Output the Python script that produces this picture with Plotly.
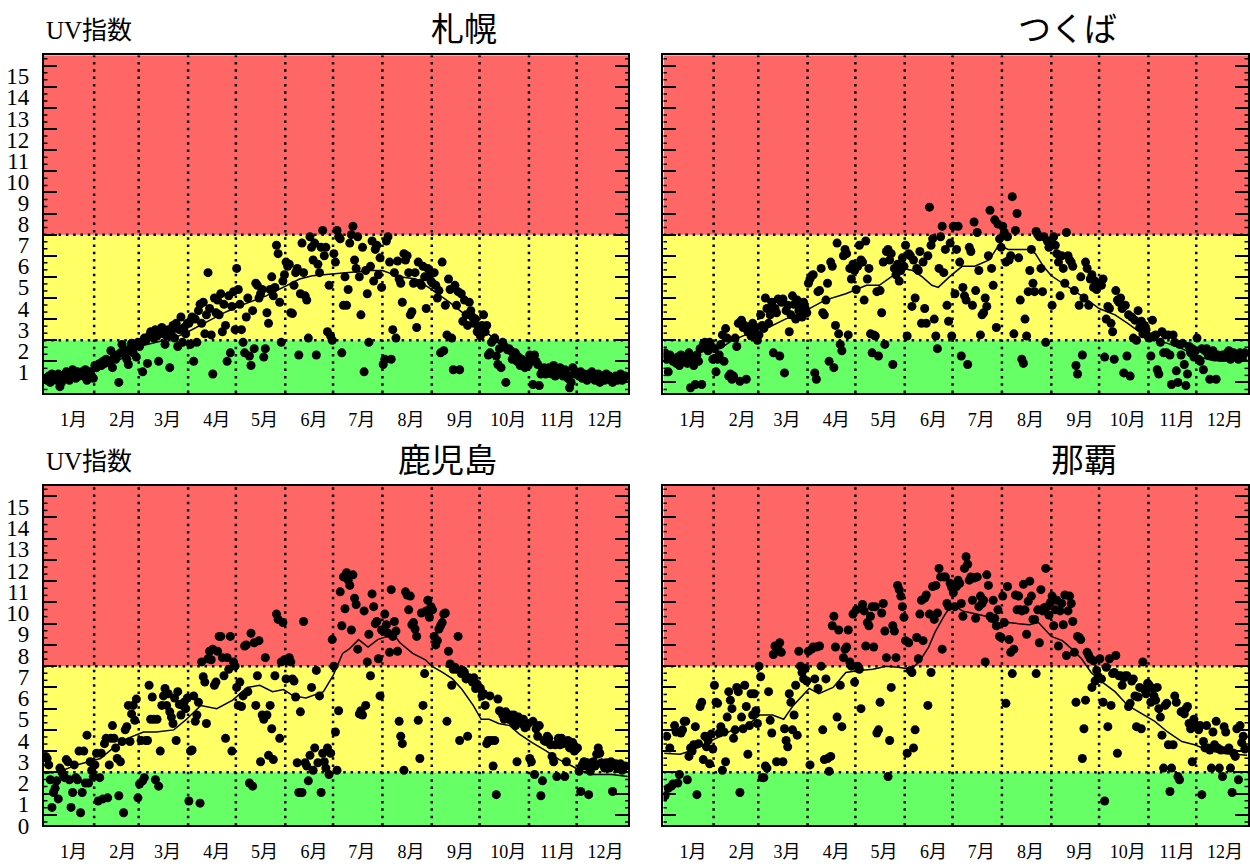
import plotly.graph_objects as go

# ---- calendar ----
MONTH_DAYS = [31, 28, 31, 30, 31, 30, 31, 31, 30, 31, 30, 31]
MONTH_START = [0, 31, 59, 90, 120, 151, 181, 212, 243, 273, 304, 334]
MONTH_LABELS = ["1月", "2月", "3月", "4月", "5月", "6月",
                "7月", "8月", "9月", "10月", "11月", "12月"]
UV_LABELS = [str(k) for k in range(16)]

# ---- daily max UV index, one list per month ----
sapporo_uv = [
    [0.7, 0.6, 0.8, 0.5, 0.9, 0.7, 0.8, 0.6, 0.9, 0.3, 0.5, 0.8, 0.7, 1.0, 0.9, 0.6, 0.8, 1.1, 0.9, 0.7, 1.0, 0.8, 0.9, 1.0, 0.8, 1.1, 0.6, 0.9, 1.0, 0.8, 0.7],
    [1.3, 1.2, 1.35, 1.4, 1.3, 1.5, 1.4, 1.6, 1.5, 1.45, 2.0, 1.2, 1.7, 1.6, 1.8, 0.5, 1.9, 2.3, 2.0, 1.8, 1.6, 1.35, 2.1, 2.35, 1.9, 2.2, 1.7, 2.4],
    [2.2, 2.4, 1.0, 2.6, 2.5, 1.4, 2.7, 2.9, 2.8, 2.6, 3.0, 2.7, 1.5, 2.9, 3.1, 2.8, 2.3, 2.7, 3.0, 1.2, 2.9, 3.2, 2.6, 3.3, 2.2, 3.0, 3.6, 2.4, 3.1, 2.8, 3.3],
    [3.3, 2.3, 3.6, 1.5, 3.5, 2.4, 3.9, 4.2, 3.3, 4.3, 2.8, 3.7, 5.7, 4.0, 2.75, 0.9, 4.5, 3.8, 4.4, 3.7, 4.7, 2.9, 4.2, 3.2, 1.5, 4.6, 1.9, 4.1, 4.8, 3.0],
    [5.9, 4.9, 4.2, 3.0, 2.4, 1.9, 3.6, 4.5, 1.75, 1.3, 3.9, 2.1, 5.2, 5.1, 4.5, 4.7, 4.9, 1.7, 2.1, 3.8, 3.3, 4.9, 5.5, 4.6, 5.0, 7.0, 6.6, 4.3, 2.4, 5.3, 5.6],
    [6.2, 6.0, 6.1, 3.8, 3.76, 5.1, 5.7, 5.9, 1.8, 4.7, 7.1, 5.7, 4.6, 4.4, 2.6, 7.4, 6.9, 6.3, 7.1, 1.8, 6.1, 5.7, 6.9, 7.7, 6.5, 6.9, 2.9, 5.1, 2.7, 2.5],
    [6.6, 6.2, 7.7, 7.4, 7.3, 1.9, 4.15, 5.5, 4.15, 4.9, 7.1, 7.5, 7.9, 6.3, 5.9, 7.4, 5.5, 3.7, 6.9, 1.0, 5.8, 4.7, 2.4, 6.0, 7.2, 5.3, 6.8, 7.0, 5.6, 6.4, 5.0],
    [1.35, 1.6, 7.2, 7.4, 6.2, 1.6, 3.0, 5.7, 2.6, 6.25, 5.4, 5.2, 4.3, 6.6, 6.3, 6.5, 5.7, 3.7, 3.85, 5.2, 5.7, 3.1, 6.2, 5.2, 5.1, 6.0, 5.5, 4.0, 5.9, 5.6, 5.3],
    [5.2, 5.7, 5.1, 4.5, 4.85, 1.9, 6.2, 2.0, 4.15, 2.75, 5.4, 4.9, 2.6, 1.1, 5.1, 4.15, 4.8, 1.1, 4.7, 3.4, 4.4, 3.7, 3.2, 4.3, 3.9, 3.6, 3.3, 3.5, 2.9, 3.1],
    [2.7, 3.2, 3.7, 2.9, 3.2, 1.8, 1.9, 2.4, 2.5, 2.6, 1.75, 1.35, 2.1, 1.2, 2.4, 2.2, 0.5, 2.05, 2.1, 2.0, 1.6, 1.8, 1.9, 1.5, 1.7, 1.3, 1.6, 1.4, 1.2, 1.5, 1.3],
    [1.8, 1.5, 0.4, 1.8, 1.5, 1.35, 0.35, 0.9, 1.1, 1.2, 0.9, 1.0, 1.2, 1.0, 0.9, 1.3, 0.8, 1.1, 0.9, 1.2, 1.0, 0.8, 1.1, 0.9, 0.7, 0.25, 0.5, 1.2, 0.9, 1.0],
    [0.9, 0.8, 1.0, 0.7, 0.9, 0.8, 0.6, 0.9, 0.7, 1.0, 0.8, 0.6, 0.7, 0.9, 0.5, 0.8, 0.7, 0.6, 0.9, 0.7, 0.8, 0.6, 0.5, 0.7, 0.8, 0.6, 0.7, 0.9, 0.6, 0.7, 0.8],
]
sapporo_mean_day = [0, 10, 20, 31, 40, 50, 59, 70, 81, 90, 98, 105, 114, 125, 139, 150, 160, 168, 181, 195, 205, 212, 223, 233, 243, 254, 264, 275, 285, 296, 306, 316, 327, 337, 348, 358, 366]
sapporo_mean = [0.8, 0.8, 0.85, 1.0, 1.3, 1.7, 2.2, 2.4, 2.6, 2.9, 3.2, 3.5, 3.85, 4.2, 4.6, 5.0, 5.4, 5.55, 5.65, 5.75, 5.8, 5.8, 5.5, 5.4, 4.9, 4.3, 3.7, 3.05, 2.35, 1.9, 1.5, 1.17, 1.0, 0.89, 0.75, 0.7, 0.68]

tsukuba_uv = [
    [1.9, 1.6, 1.0, 1.8, 1.7, 1.5, 1.6, 1.4, 1.7, 1.3, 1.8, 1.6, 1.5, 1.7, 1.4, 1.9, 0.25, 1.6, 1.3, 0.4, 1.8, 1.5, 2.1, 0.4, 2.3, 2.4, 2.1, 2.0, 2.4, 2.2, 1.6],
    [2.1, 1.0, 1.6, 1.8, 2.3, 2.75, 1.5, 3.05, 2.6, 0.8, 0.9, 0.65, 0.8, 2.6, 2.2, 3.3, 0.55, 3.45, 3.1, 3.2, 0.65, 2.9, 3.0, 2.7, 3.3, 2.8, 3.1, 2.5],
    [2.75, 3.7, 3.2, 3.06, 4.5, 4.0, 3.3, 3.7, 4.3, 1.9, 4.0, 3.8, 4.45, 1.75, 4.3, 4.45, 0.95, 3.9, 4.15, 2.9, 3.7, 4.6, 4.2, 3.5, 4.4, 3.9, 4.1, 3.6, 4.3, 4.0, 3.8],
    [5.2, 5.4, 5.55, 5.6, 0.95, 0.65, 4.8, 4.85, 5.9, 3.8, 3.7, 4.4, 5.2, 1.5, 6.2, 6.0, 1.2, 3.2, 7.1, 2.8, 2.3, 2.0, 6.5, 6.8, 6.6, 2.75, 5.9, 5.4, 6.1, 5.8],
    [4.9, 6.0, 7.0, 6.3, 6.2, 4.4, 7.2, 5.4, 5.9, 2.8, 1.9, 2.75, 2.7, 4.8, 1.75, 4.85, 3.8, 6.2, 2.3, 6.7, 6.8, 6.3, 6.6, 1.35, 5.9, 5.6, 6.1, 5.3, 5.8, 6.4, 6.0],
    [7.0, 2.7, 6.6, 6.5, 4.1, 6.3, 4.5, 5.9, 5.8, 6.7, 3.3, 6.2, 4.0, 3.3, 6.5, 8.8, 7.0, 7.3, 3.5, 2.7, 2.1, 5.9, 7.4, 7.9, 5.7, 6.8, 4.15, 3.4, 7.1, 2.7],
    [7.9, 4.7, 6.8, 7.9, 6.2, 1.75, 5.0, 4.6, 4.4, 1.35, 6.9, 6.7, 4.15, 8.1, 4.85, 7.6, 5.8, 2.75, 3.7, 3.8, 4.5, 4.1, 6.5, 8.65, 5.9, 5.1, 8.2, 3.1, 8.0, 7.3, 6.9],
    [7.9, 7.6, 6.2, 7.4, 6.3, 6.5, 9.3, 2.8, 7.7, 8.5, 6.4, 4.4, 1.6, 1.4, 3.5, 2.7, 4.8, 5.8, 6.8, 5.2, 4.8, 7.65, 7.5, 7.4, 5.9, 4.8, 7.4, 2.4, 7.2, 6.9, 7.0],
    [4.15, 7.4, 7.0, 6.6, 6.2, 4.6, 6.5, 5.9, 5.2, 7.6, 6.5, 6.3, 6.2, 6.0, 4.85, 1.3, 0.9, 4.15, 5.5, 1.8, 4.5, 6.2, 5.9, 4.15, 5.4, 5.6, 5.0, 5.3, 4.9, 5.1],
    [5.2, 5.1, 5.4, 1.7, 3.5, 4.1, 4.0, 3.3, 2.9, 1.6, 4.85, 4.4, 4.3, 4.5, 4.0, 0.95, 4.15, 1.75, 3.7, 0.8, 3.6, 2.6, 3.45, 2.5, 3.9, 3.1, 3.4, 2.8, 3.2, 3.0, 2.7],
    [2.6, 1.75, 3.45, 2.7, 2.75, 1.1, 0.9, 2.4, 2.9, 1.9, 2.75, 1.9, 2.75, 1.8, 0.4, 2.75, 2.4, 1.05, 0.5, 2.3, 1.8, 2.35, 1.35, 0.35, 0.9, 2.2, 1.9, 2.1, 1.7, 2.0],
    [2.6, 1.6, 1.5, 2.1, 1.1, 2.0, 2.1, 1.8, 0.65, 1.75, 2.0, 1.7, 0.65, 1.8, 1.7, 1.75, 1.8, 1.7, 1.75, 1.9, 2.0, 1.6, 1.8, 1.9, 1.7, 1.8, 1.6, 1.9, 1.7, 1.8, 1.9],
]
tsukuba_mean_day = [0, 14, 26, 35, 43, 51, 60, 68, 76, 85, 91, 101, 114, 121, 127, 135, 143, 150, 156, 162, 168, 172, 179, 187, 195, 204, 210, 216, 223, 229, 233, 238, 243, 250, 256, 264, 273, 283, 291, 300, 308, 316, 325, 333, 341, 350, 358, 366]
tsukuba_mean = [1.75, 1.75, 2.0, 2.1, 2.5, 2.75, 2.9, 3.2, 3.5, 3.75, 4.0, 4.4, 4.7, 4.9, 5.1, 5.1, 5.55, 5.9, 5.8, 5.5, 5.1, 5.0, 5.5, 6.0, 6.0, 6.3, 7.0, 6.8, 6.8, 6.8, 6.6, 6.0, 5.55, 5.2, 4.9, 4.5, 4.0, 3.7, 3.3, 2.8, 2.5, 2.35, 2.1, 1.8, 1.6, 1.5, 1.55, 1.6]

kagoshima_uv = [
    [3.25, 3.15, 2.85, 2.15, 0.85, 1.55, 1.75, 2.1, 1.25, 2.7, 2.55, 2.4, 2.25, 3.1, 3.0, 2.15, 0.85, 1.55, 2.85, 2.25, 2.15, 3.5, 0.6, 1.55, 3.5, 2.0, 4.25, 2.0, 3.0, 2.6, 2.3],
    [2.85, 3.4, 1.15, 2.25, 3.4, 1.25, 3.85, 4.1, 1.3, 2.85, 4.1, 4.7, 4.1, 3.65, 3.15, 1.4, 3.0, 3.95, 0.6, 4.5, 4.65, 5.65, 3.95, 5.25, 5.65, 4.95, 5.95, 1.3],
    [1.95, 4.0, 2.1, 2.25, 4.0, 4.0, 6.6, 5.0, 6.05, 5.0, 2.15, 5.0, 1.85, 3.5, 5.65, 6.1, 6.45, 5.65, 6.2, 5.35, 5.1, 4.8, 6.0, 4.0, 6.3, 5.7, 5.2, 5.65, 5.8, 5.5, 6.0],
    [1.15, 3.5, 3.55, 6.1, 4.9, 5.2, 5.8, 1.05, 7.7, 7.0, 6.75, 4.8, 7.85, 8.2, 7.8, 8.3, 6.6, 6.75, 8.2, 8.9, 8.9, 7.9, 7.05, 4.1, 7.9, 7.35, 8.9, 3.5, 7.7, 7.5],
    [6.5, 5.65, 6.75, 5.6, 6.1, 8.45, 8.5, 6.3, 2.0, 9.05, 1.85, 8.6, 5.65, 7.05, 8.7, 3.0, 5.2, 5.0, 7.9, 5.2, 3.3, 5.65, 4.55, 3.1, 7.05, 9.95, 9.7, 4.1, 7.7, 9.55, 7.8],
    [6.9, 7.75, 7.9, 7.7, 6.9, 6.8, 6.05, 2.95, 1.55, 5.35, 1.55, 9.6, 2.95, 2.8, 2.1, 3.3, 6.5, 2.6, 3.65, 7.3, 2.95, 6.1, 1.55, 3.4, 3.0, 2.7, 3.65, 2.4, 3.4, 8.75],
    [7.5, 4.4, 2.6, 5.4, 11.0, 9.4, 11.7, 10.2, 11.9, 11.55, 11.3, 9.2, 11.8, 10.7, 10.4, 8.3, 5.25, 5.4, 5.2, 10.1, 5.65, 7.7, 9.0, 7.05, 10.9, 10.3, 9.5, 9.6, 7.85, 6.1, 9.2],
    [9.15, 9.95, 9.45, 9.05, 8.15, 11.1, 8.9, 9.6, 9.15, 8.2, 4.9, 4.2, 3.85, 2.6, 11.0, 10.85, 10.15, 10.8, 9.45, 9.55, 9.25, 8.9, 4.95, 3.15, 10.0, 5.65, 7.15, 10.1, 10.6, 9.8, 10.3],
    [10.15, 8.9, 8.5, 8.7, 9.25, 9.4, 9.55, 9.95, 10.0, 4.9, 8.2, 7.6, 6.6, 7.35, 7.45, 7.35, 8.9, 4.0, 7.15, 7.3, 7.2, 6.9, 4.2, 6.95, 6.9, 6.75, 6.95, 6.45, 6.65, 6.5],
    [6.45, 6.1, 6.2, 5.65, 3.85, 4.0, 6.1, 4.0, 2.8, 4.0, 1.45, 5.95, 5.4, 5.35, 5.2, 5.0, 5.35, 5.2, 5.0, 5.2, 4.9, 5.2, 4.7, 3.0, 5.1, 4.9, 4.8, 5.0, 4.6, 4.7, 4.8],
    [3.15, 3.0, 4.9, 2.4, 4.55, 4.2, 4.7, 1.4, 2.1, 4.0, 3.95, 4.2, 4.1, 3.8, 3.25, 3.0, 3.8, 2.3, 4.1, 3.8, 4.1, 3.85, 2.3, 3.0, 4.0, 3.65, 3.7, 3.9, 3.5, 3.6],
    [3.65, 2.55, 1.6, 2.85, 3.0, 2.8, 2.95, 1.45, 2.55, 2.95, 3.0, 2.8, 3.35, 3.65, 3.4, 2.95, 2.85, 2.7, 2.95, 2.85, 2.7, 3.0, 1.6, 2.85, 2.9, 2.7, 2.8, 2.9, 2.6, 2.75, 2.8],
]
kagoshima_mean_day = [0, 10, 20, 35, 43, 52, 62, 70, 81, 89, 98, 108, 118, 127, 135, 143, 150, 156, 164, 171, 175, 181, 187, 191, 197, 203, 209, 215, 219, 223, 231, 239, 243, 250, 256, 262, 269, 274, 279, 285, 292, 298, 306, 315, 323, 331, 337, 344, 356, 366]
kagoshima_mean = [2.45, 2.55, 2.85, 3.15, 3.65, 4.1, 4.4, 4.4, 4.5, 5.0, 5.65, 5.5, 5.9, 6.5, 6.6, 6.3, 6.4, 6.1, 6.0, 6.2, 6.3, 7.05, 8.1, 8.3, 8.75, 8.4, 8.75, 8.9, 9.0, 8.6, 8.1, 7.8, 7.5, 7.2, 6.9, 6.4, 5.65, 5.0, 5.0, 4.8, 4.7, 4.3, 3.9, 3.5, 3.1, 2.8, 2.55, 2.4, 2.4, 2.3]

naha_uv = [
    [1.4, 4.2, 1.75, 3.65, 1.85, 1.95, 4.7, 4.4, 2.0, 2.4, 4.35, 4.5, 4.9, 4.9, 2.15, 3.25, 3.65, 3.5, 3.8, 4.65, 1.45, 3.85, 5.6, 5.8, 3.1, 4.2, 3.7, 4.0, 2.9, 4.3, 3.6],
    [6.6, 5.8, 5.75, 4.35, 4.65, 2.6, 4.4, 3.0, 5.1, 6.3, 5.9, 5.5, 4.1, 4.5, 6.5, 6.3, 1.55, 5.1, 4.55, 6.6, 5.6, 3.35, 4.7, 6.2, 5.2, 6.2, 5.4, 4.8],
    [7.5, 7.0, 2.25, 2.25, 2.8, 2.7, 6.3, 4.95, 4.35, 8.05, 8.45, 3.0, 8.3, 8.6, 8.15, 3.0, 4.55, 4.0, 3.7, 6.2, 5.8, 4.5, 5.2, 6.6, 4.25, 8.2, 7.5, 7.2, 6.9, 7.4, 6.8],
    [8.2, 2.85, 8.3, 8.4, 6.9, 8.4, 6.45, 8.45, 7.5, 4.5, 3.1, 6.9, 3.15, 2.55, 3.25, 9.4, 9.85, 8.4, 5.1, 9.2, 6.6, 4.65, 7.9, 8.3, 8.4, 9.2, 7.7, 7.5, 9.95, 6.75],
    [10.15, 7.5, 7.35, 5.5, 10.4, 10.1, 8.45, 9.55, 9.4, 9.85, 10.3, 8.4, 10.3, 4.35, 4.5, 5.8, 10.0, 10.45, 9.15, 7.9, 2.3, 4.0, 6.5, 9.4, 9.15, 7.9, 11.3, 11.1, 10.8, 10.3, 9.8],
    [8.7, 3.4, 8.6, 7.3, 7.2, 3.65, 4.5, 8.85, 7.85, 9.95, 10.6, 8.7, 10.7, 10.85, 5.65, 9.95, 7.2, 11.25, 9.7, 11.3, 10.0, 12.1, 11.7, 8.3, 11.7, 11.7, 10.45, 10.3, 11.4, 11.2],
    [10.95, 10.3, 11.25, 11.55, 11.4, 10.45, 9.85, 12.1, 12.65, 12.3, 11.55, 11.7, 10.6, 11.65, 9.75, 11.7, 10.3, 10.8, 10.45, 10.6, 7.7, 11.8, 11.3, 9.85, 9.75, 10.6, 9.75, 9.4, 10.15, 8.9, 8.85],
    [10.8, 9.55, 5.75, 11.25, 8.75, 8.15, 7.15, 8.3, 10.85, 10.15, 10.8, 10.15, 10.1, 11.35, 10.15, 9.0, 10.55, 11.5, 10.8, 9.7, 9.7, 7.15, 10.15, 8.6, 11.1, 10.1, 10.25, 12.1, 10.3, 9.9, 10.5],
    [10.8, 9.4, 10.15, 10.6, 8.45, 10.1, 10.45, 9.45, 10.85, 8.0, 10.1, 10.8, 10.45, 9.6, 8.15, 5.8, 8.9, 8.85, 8.75, 3.15, 4.55, 5.9, 8.15, 8.0, 7.85, 6.5, 7.75, 6.8, 7.3, 7.0],
    [7.85, 6.9, 5.8, 1.15, 7.45, 4.65, 7.85, 5.65, 7.15, 7.2, 8.0, 3.4, 7.05, 7.05, 6.6, 6.95, 7.05, 7.05, 5.6, 5.75, 6.8, 6.9, 6.1, 4.65, 6.05, 6.5, 4.55, 7.7, 6.4, 6.2, 6.7],
    [6.6, 5.8, 6.45, 6.1, 5.9, 6.5, 5.5, 5.1, 4.25, 2.7, 5.65, 5.75, 3.8, 1.6, 2.7, 3.8, 6.1, 5.8, 2.3, 2.15, 5.35, 5.35, 5.25, 5.5, 5.6, 4.8, 4.55, 3.0, 5.0, 4.7],
    [4.7, 4.5, 4.7, 1.45, 3.95, 3.65, 4.7, 3.65, 3.55, 2.7, 4.4, 3.8, 4.9, 3.65, 2.7, 3.55, 2.3, 4.65, 4.4, 3.55, 3.65, 2.7, 1.55, 3.4, 3.25, 4.55, 2.15, 4.7, 3.9, 4.2, 3.6],
]
naha_mean_day = [0, 10, 18, 26, 35, 43, 52, 60, 68, 75, 81, 87, 91, 97, 106, 114, 122, 131, 139, 147, 155, 160, 166, 170, 176, 181, 187, 193, 202, 208, 211, 216, 222, 229, 235, 243, 250, 256, 262, 268, 275, 283, 291, 300, 308, 316, 325, 333, 341, 350, 358, 366]
naha_mean = [3.4, 3.35, 3.55, 3.85, 4.2, 4.5, 4.7, 5.2, 5.2, 5.0, 5.65, 6.1, 6.45, 6.2, 6.5, 7.2, 7.3, 7.35, 7.5, 7.45, 7.35, 7.7, 8.4, 9.1, 9.9, 10.45, 10.1, 10.0, 9.85, 9.45, 9.3, 9.55, 9.5, 9.45, 9.55, 8.9, 8.7, 8.3, 7.85, 7.2, 6.75, 6.3, 5.65, 5.25, 4.9, 4.4, 3.95, 3.8, 3.55, 3.4, 3.35, 3.3]

# ---- styling ----
GREEN, YELLOW, RED = "#66ff66", "#ffff66", "#ff6666"
SERIF = "Liberation Serif, Noto Sans CJK JP, serif"
GOTHIC = "Noto Sans CJK JP, sans-serif"
X_RANGE = [-0.5, 366.5]
Y_RANGE = [0, 16]

X_DOMAINS = {"L": [0.0352, 0.5032], "R": [0.5312, 0.9992]}
Y_DOMAINS = {"T": [0.5393, 0.9353], "B": [0.0323, 0.4307]}


def month_positions(monthly):
    """Spread each month's daily values across that month on the day axis."""
    xs, ys = [], []
    for m, vals in enumerate(monthly):
        n = len(vals)
        for i, v in enumerate(vals):
            xs.append(MONTH_START[m] + (i + 0.5) * MONTH_DAYS[m] / n)
            ys.append(v)
    return xs, ys


panels = [
    # title, daily data, mean days, mean values, col, row, tick labels shown
    ("札幌", sapporo_uv, sapporo_mean_day, sapporo_mean, "L", "T", UV_LABELS[1:]),
    ("つくば", tsukuba_uv, tsukuba_mean_day, tsukuba_mean, "R", "T", None),
    ("鹿児島", kagoshima_uv, kagoshima_mean_day, kagoshima_mean, "L", "B", UV_LABELS),
    ("那覇", naha_uv, naha_mean_day, naha_mean, "R", "B", None),
]

fig = go.Figure()
shapes = []
annotations = []

major_ticks = [k + 0.5 for k in range(16)]
small_ticks = [k + 0.5 + j / 3 for k in range(-1, 16) for j in (1, 2)]
small_ticks = [v for v in small_ticks if 0 < v < 16]

dot_line = dict(color="black", width=2.5, dash="2.5px,4.8px")

for idx, (title, monthly, mday, mval, col, row, ylabels) in enumerate(panels):
    n = "" if idx == 0 else str(idx + 1)
    xa, ya = "x" + n, "y" + n

    xs, ys = month_positions(monthly)
    fig.add_trace(go.Scatter(
        x=xs, y=ys, mode="markers", xaxis=xa, yaxis=ya,
        marker=dict(color="black", size=9, line=dict(width=0)),
        showlegend=False, hoverinfo="skip"))
    fig.add_trace(go.Scatter(
        x=mday, y=mval, mode="lines", xaxis=xa, yaxis=ya,
        line=dict(color="black", width=1.5),
        showlegend=False, hoverinfo="skip"))

    # UV category bands
    for y0, y1, c in ((0, 2.5, GREEN), (2.5, 7.5, YELLOW), (7.5, 16, RED)):
        shapes.append(dict(type="rect", xref=xa, yref=ya, x0=X_RANGE[0], x1=X_RANGE[1],
                           y0=y0, y1=y1, fillcolor=c, line=dict(width=0), layer="below"))
    for yb in (2.5, 7.5):
        shapes.append(dict(type="line", xref=xa, yref=ya, x0=X_RANGE[0], x1=X_RANGE[1],
                           y0=yb, y1=yb, line=dot_line, layer="below"))
    for ms in MONTH_START[1:]:
        shapes.append(dict(type="line", xref=xa, yref=ya, x0=ms, x1=ms,
                           y0=Y_RANGE[0], y1=Y_RANGE[1], line=dot_line, layer="below"))
    # small in-frame ticks on both sides
    for v in small_ticks:
        for x0, x1 in ((0, 0.006), (0.994, 1)):
            shapes.append(dict(type="line", xref=xa + " domain", yref=ya,
                               x0=x0, x1=x1, y0=v, y1=v,
                               line=dict(color="black", width=1.5)))

    xkey = "xaxis" + n
    ykey = "yaxis" + n
    fig.update_layout({
        xkey: dict(domain=X_DOMAINS[col], anchor=ya, range=X_RANGE,
                   showgrid=False, zeroline=False,
                   showline=True, linewidth=2, linecolor="black", mirror=True,
                   ticks="", tickmode="array",
                   tickvals=[s + 18 for s in MONTH_START], ticktext=MONTH_LABELS,
                   tickfont=dict(family=SERIF, size=18, color="black"),
                   ticklabelstandoff=9),
        ykey: dict(domain=Y_DOMAINS[row], anchor=xa, range=Y_RANGE,
                   showgrid=False, zeroline=False,
                   showline=True, linewidth=2, linecolor="black", mirror="ticks",
                   ticks="", tickmode="array",
                   tickvals=[int(t) for t in (ylabels or [])],
                   ticktext=list(ylabels or []),
                   showticklabels=ylabels is not None,
                   tickfont=dict(family=SERIF, size=23, color="black"),
                   ticklabelstandoff=8,
                   minor=dict(tickmode="array", tickvals=major_ticks, ticks="inside",
                              ticklen=13, tickwidth=2, tickcolor="black", showgrid=False)),
    })

    # station name, right-aligned above the panel
    tx = 0.3992 if col == "L" else 0.8960
    ty = 0.9682 if row == "T" else 0.4630
    annotations.append(dict(text=title, xref="paper", yref="paper", x=tx, y=ty,
                            xanchor="right", yanchor="middle", showarrow=False,
                            font=dict(family=GOTHIC, size=33, color="black")))
    if col == "L":
        uy = 0.9642 if row == "T" else 0.4590
        annotations.append(dict(text="UV指数", xref="paper", yref="paper", x=0.0352, y=uy,
                                xanchor="left", yanchor="middle", showarrow=False,
                                font=dict(family=SERIF, size=25, color="black")))

fig.update_layout(
    width=1250, height=866,
    margin=dict(l=0, r=0, t=0, b=0),
    paper_bgcolor="white", plot_bgcolor="white",
    shapes=shapes, annotations=annotations,
    showlegend=False,
)

fig.write_html("out.html")
